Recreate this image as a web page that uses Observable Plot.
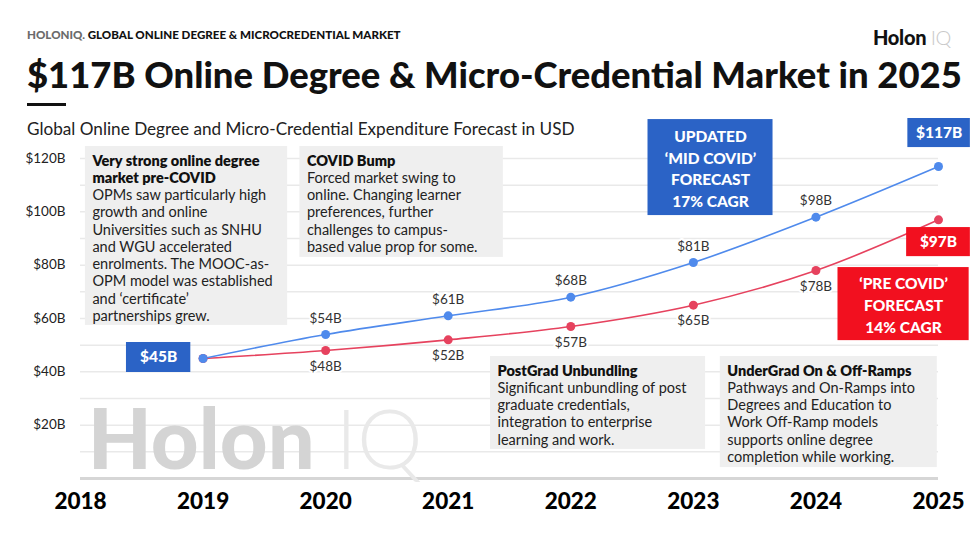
<!DOCTYPE html>
<html>
<head>
<meta charset="utf-8">
<script src="https://cdn.jsdelivr.net/npm/d3@7"></script>
<script src="https://cdn.jsdelivr.net/npm/@observablehq/plot@0.6"></script>
<style>
  body { margin: 0; background: #fff; font-family: Lato, "Noto Sans", sans-serif; }
  #wrap { position: relative; width: 975px; height: 548px; overflow: hidden; background: #fff; }
  #chart { position: absolute; left: 0; top: 110px; }
  .hdr { position: absolute; white-space: nowrap; line-height: 1; z-index: 2; }
  #kicker { left: 27px; top: 29px; font-size: 11px; font-weight: 900; color: #111; }
  #kicker span { color: #6b6b6b; }
  #logo { left: 873px; top: 27px; font-size: 20px; font-weight: 900; color: #111; letter-spacing: -0.3px; }
  #logo span { color: #c9c9c9; font-weight: 300; }
  #title { left: 27px; top: 56px; font-size: 33px; font-weight: 900; color: #111; }
  #rule { position: absolute; left: 27px; top: 103px; width: 39px; height: 3px; background: #111; z-index: 2; }
  #subtitle { left: 27px; top: 120px; font-size: 15.5px; font-weight: 400; color: #222; }
</style>
</head>
<body>
<div id="wrap">
  <div id="chart"></div>
  <div class="hdr" id="kicker"><span>HOLONIQ.</span> GLOBAL ONLINE DEGREE &amp; MICROCREDENTIAL MARKET</div>
  <div class="hdr" id="logo">Holon <span>IQ</span></div>
  <div class="hdr" id="title">$117B Online Degree &amp; Micro-Credential Market in 2025</div>
  <div id="rule"></div>
  <div class="hdr" id="subtitle">Global Online Degree and Micro-Credential Expenditure Forecast in USD</div>
</div>
<script>
// ---------- data ----------
const years = [2019, 2020, 2021, 2022, 2023, 2024, 2025];
const midCovid = [45, 54, 61, 68, 81, 98, 117];   // updated 'mid covid' forecast, $B
const preCovid = [45, 48, 52, 57, 65, 78, 97];    // 'pre covid' forecast, $B
const xTicks = [2018, 2019, 2020, 2021, 2022, 2023, 2024, 2025];
const yTicks = [20, 40, 60, 80, 100, 120];
const gridValues = [10, 20, 30, 40, 50, 60, 70, 80, 90, 100, 110, 120];

const annoHeads = [
  "Very strong online degree\nmarket pre-COVID",
  "COVID Bump",
  "PostGrad Unbundling",
  "UnderGrad On & Off-Ramps"
];
const annoBodies = [
  "OPMs saw particularly high\ngrowth and online\nUniversities such as SNHU\nand WGU accelerated\nenrolments. The MOOC-as-\nOPM model was established\nand \u2018certificate\u2019\npartnerships grew.",
  "Forced market swing to\nonline. Changing learner\npreferences, further\nchallenges to campus-\nbased value prop for some.",
  "Significant unbundling of post\ngraduate credentials,\nintegration to enterprise\nlearning and work.",
  "Pathways and On-Ramps into\nDegrees and Education to\nWork Off-Ramp models\nsupports online degree\ncompletion while working."
];
const calloutTexts = ["UPDATED\n\u2018MID COVID\u2019\nFORECAST\n17% CAGR", "\u2018PRE COVID\u2019\nFORECAST\n14% CAGR"];
const watermark = ["Holon", "IQ"];

// ---------- layout (in data units: year, $B) ----------
const annoBoxes = [
  {x1: 2018.04, x2: 2019.69, y1: 57.4, y2: 124.5},
  {x1: 2019.79, x2: 2021.45, y1: 82.9, y2: 124.5},
  {x1: 2021.345, x2: 2023.10, y1: 10.9, y2: 45.75},
  {x1: 2023.22, x2: 2024.99, y1: 4.1, y2: 45.75}
];
const annoHeadLines = annoHeads.map(t => t.split("\n").length);
const calloutBoxes = [
  {x1: 2022.63, x2: 2023.65, y1: 98.6, y2: 134.6, fill: "#2b63c6"},
  {x1: 2024.18, x2: 2025.25, y1: 51.7, y2: 79.1, fill: "#f2101f"}
];
const endBoxes = [
  {x1: 2018.375, x2: 2018.90, y1: 39.75, y2: 51.0, fill: "#2b63c6", text: "$" + midCovid[0] + "B"},
  {x1: 2024.75, x2: 2025.26, y1: 124.1, y2: 135.0, fill: "#2b63c6", text: "$" + midCovid[6] + "B"},
  {x1: 2024.74, x2: 2025.26, y1: 83.2, y2: 94.1, fill: "#f2101f", text: "$" + preCovid[6] + "B"}
];
const watermarkPos = [
  {x: 2018.06, y: 3.6, fill: "#d4d4d4", weight: 900},
  {x: 2020.08, y: 3.6, fill: "#e9e9e9", weight: 300}
];

const blue = "#4f8aec";
const red = "#e6425e";

const rows = [
  ...years.map((y, i) => ({year: y, value: midCovid[i], series: "mid"})),
  ...years.map((y, i) => ({year: y, value: preCovid[i], series: "pre"}))
];
const midRows = rows.filter(d => d.series === "mid");
const preRows = rows.filter(d => d.series === "pre");
const inner = d => d.year > 2019 && d.year < 2025;

const bodyFont = 14.5;
const lh = 17.25;

const annoMarks = annoBoxes.flatMap((b, i) => [
  Plot.rect([b], {x1: "x1", x2: "x2", y1: "y1", y2: "y2", fill: "#efefef"}),
  Plot.text([b], {x: "x1", y: "y2", text: () => annoHeads[i], textAnchor: "start", lineAnchor: "top",
    dx: 7, dy: 7, fontSize: bodyFont, fontWeight: 800, fill: "#111", lineHeight: lh / bodyFont}),
  Plot.text([b], {x: "x1", y: "y2", text: () => annoBodies[i], textAnchor: "start", lineAnchor: "top",
    dx: 7, dy: 7 + annoHeadLines[i] * lh, fontSize: bodyFont, fontWeight: 400, fill: "#222", lineHeight: lh / bodyFont})
]);

const watermarkMarks = watermarkPos.map((p, i) =>
  Plot.text([watermark[i]], {x: () => p.x, y: () => p.y, text: d => d, textAnchor: "start", lineAnchor: "bottom",
    fontSize: 83, fontWeight: p.weight, fill: p.fill})
);

const chart = Plot.plot({
  width: 975,
  height: 438,
  marginLeft: 80,
  marginRight: 37,
  marginTop: 48,
  marginBottom: 70,
  style: {fontFamily: "Lato, 'Noto Sans', sans-serif", background: "#fff", overflow: "visible"},
  x: {domain: [2018, 2025]},
  y: {domain: [0, 120]},
  marks: [
    Plot.ruleY(gridValues, {stroke: "#e9e9e9", strokeWidth: 1.5}),
    Plot.ruleY([0], {stroke: "#d6d6d6", strokeWidth: 3}),
    ...watermarkMarks,
    ...annoMarks,
    Plot.line(preRows, {x: "year", y: "value", stroke: red, strokeWidth: 1.6, curve: "catmull-rom"}),
    Plot.line(midRows, {x: "year", y: "value", stroke: blue, strokeWidth: 1.6, curve: "catmull-rom"}),
    Plot.dot(preRows, {x: "year", y: "value", r: 4.5, fill: red}),
    Plot.dot(midRows, {x: "year", y: "value", r: 4.5, fill: blue}),
    Plot.text(midRows.filter(inner), {x: "year", y: "value", text: d => `$${d.value}B`, dy: -16,
      fontSize: 13.5, fill: "#333", stroke: "#fff", strokeWidth: 4}),
    Plot.text(preRows.filter(inner), {x: "year", y: "value", text: d => `$${d.value}B`, dy: 16,
      fontSize: 13.5, fill: "#333", stroke: "#fff", strokeWidth: 4}),
    Plot.rect(calloutBoxes, {x1: "x1", x2: "x2", y1: "y1", y2: "y2", fill: "fill"}),
    Plot.text(calloutBoxes, {x: d => (d.x1 + d.x2) / 2, y: d => (d.y1 + d.y2) / 2, text: (d, i) => calloutTexts[i],
      fill: "#fff", fontSize: 15.5, fontWeight: 900, lineHeight: 1.4}),
    Plot.rect(endBoxes, {x1: "x1", x2: "x2", y1: "y1", y2: "y2", fill: "fill"}),
    Plot.text(endBoxes, {x: d => (d.x1 + d.x2) / 2, y: d => (d.y1 + d.y2) / 2, text: "text",
      fill: "#fff", fontSize: 15.5, fontWeight: 900}),
    Plot.axisY(yTicks, {tickSize: 0, tickPadding: 15, tickFormat: d => `$${d}B`, fontSize: 13.5, label: null, fill: "#222"}),
    Plot.axisX(xTicks, {tickSize: 0, tickPadding: 15, tickFormat: d => String(d), fontSize: 22.5, fontWeight: 900, label: null, fill: "#000"})
  ]
});
document.getElementById("chart").appendChild(chart);

// fit header texts to the reference widths
function fit(id, target) {
  const el = document.getElementById(id);
  const w = el.getBoundingClientRect().width;
  const fs = parseFloat(getComputedStyle(el).fontSize);
  el.style.fontSize = (fs * target / w) + "px";
}
fit("kicker", 374);
fit("title", 935);
fit("subtitle", 548);
</script>
</body>
</html>
